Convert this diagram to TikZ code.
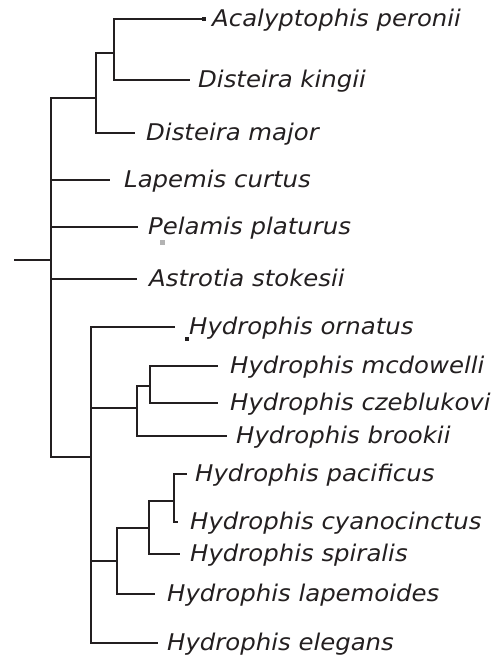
\documentclass[tikz,border=0pt]{standalone}
\usepackage{fontspec}
\newfontfamily\taxfont[FakeStretch=1.06]{DejaVu Sans}
\usepackage{tikz}
\usetikzlibrary{positioning}
\definecolor{ink}{HTML}{231F20}
\definecolor{specks}{HTML}{B3B3B3}

\begin{document}
\begin{tikzpicture}[x=1pt, y=-1pt,
  branch/.style={draw=ink, line width=2.2pt},
  taxon/.style={anchor=west, inner sep=0pt, text height=17pt, text depth=3pt, text=ink, font=\taxfont\fontsize{23}{27}\selectfont\itshape},
  speck/.style={rectangle, inner sep=0pt, minimum size=4.5pt, fill=ink}
]
  \useasboundingbox (0,0) rectangle (503,657);

  % Root and internal nodes
  \coordinate (base) at (14,260);
  \coordinate (root) at (51,260);
  \coordinate (dis1) at (96,98);
  \coordinate (dis2) at (114,53);
  \coordinate (hyd1) at (91,457);
  \coordinate (hyd2) at (137,408);
  \coordinate (hyd3) at (150,386);
  \coordinate (hyd5) at (117,561);
  \coordinate (hyd6) at (149,528);
  \coordinate (hyd7) at (174,501);

  % Tips
  \coordinate (acal) at (202,19);
  \coordinate (king) at (190,80);
  \coordinate (majo) at (135,133);
  \coordinate (lape) at (110,180);
  \coordinate (pela) at (138,227);
  \coordinate (astr) at (137,279);
  \coordinate (orna) at (175,327);
  \coordinate (mcdo) at (218,366);
  \coordinate (czeb) at (218,403);
  \coordinate (broo) at (227,436);
  \coordinate (paci) at (187,474);
  \coordinate (cyan) at (178,522);
  \coordinate (spir) at (180,554);
  \coordinate (lapm) at (155,594);
  \coordinate (eleg) at (158,643);

  % Branches
  \draw[branch] (base) -- (root);
  \draw[branch] (root) |- (dis1);
  \draw[branch] (root) |- (lape);
  \draw[branch] (root) |- (pela);
  \draw[branch] (root) |- (astr);
  \draw[branch] (root) |- (hyd1);
  \draw[branch] (dis1) |- (dis2);
  \draw[branch] (dis1) |- (majo);
  \draw[branch] (dis2) |- (acal);
  \draw[branch] (dis2) |- (king);
  \draw[branch] (hyd1) |- (orna);
  \draw[branch] (hyd1) |- (hyd2);
  \draw[branch] (hyd1) |- (hyd5);
  \draw[branch] (hyd1) |- (eleg);
  \draw[branch] (hyd2) |- (hyd3);
  \draw[branch] (hyd2) |- (broo);
  \draw[branch] (hyd3) |- (mcdo);
  \draw[branch] (hyd3) |- (czeb);
  \draw[branch] (hyd5) |- (hyd6);
  \draw[branch] (hyd5) |- (lapm);
  \draw[branch] (hyd6) |- (hyd7);
  \draw[branch] (hyd6) |- (spir);
  \draw[branch] (hyd7) |- (paci);
  \draw[branch] (hyd7) |- (cyan);

  % Stray marks
  \node[speck] (acaldot) at ([xshift=2pt]acal) {};
  \node[speck] (ornadot) at (187,339) {};
  \node[speck, fill=specks, minimum size=5pt] (peladot) at (162,242) {};

  % Taxon labels
  \node[taxon, right=10pt of acal] (acaltxt) {Acalyptophis peronii};
  \node[taxon, right=8pt of king] (kingtxt) {Disteira kingii};
  \node[taxon, right=11pt of majo] (majotxt) {Disteira major};
  \node[taxon, right=14pt of lape] (lapetxt) {Lapemis curtus};
  \node[taxon, right=10pt of pela] (pelatxt) {Pelamis platurus};
  \node[taxon, right=12pt of astr] (astrtxt) {Astrotia stokesii};
  \node[taxon, right=14pt of orna] (ornatxt) {Hydrophis ornatus};
  \node[taxon, right=12pt of mcdo] (mcdotxt) {Hydrophis mcdowelli};
  \node[taxon, right=12pt of czeb] (czebtxt) {Hydrophis czeblukovi};
  \node[taxon, right=9pt of broo] (brootxt) {Hydrophis brookii};
  \node[taxon, right=8pt of paci] (pacitxt) {Hydrophis pacificus};
  \node[taxon, right=12pt of cyan] (cyantxt) {Hydrophis cyanocinctus};
  \node[taxon, right=10pt of spir] (spirtxt) {Hydrophis spiralis};
  \node[taxon, right=12pt of lapm] (lapmtxt) {Hydrophis lapemoides};
  \node[taxon, right=9pt of eleg] (elegtxt) {Hydrophis elegans};
\end{tikzpicture}
\end{document}
